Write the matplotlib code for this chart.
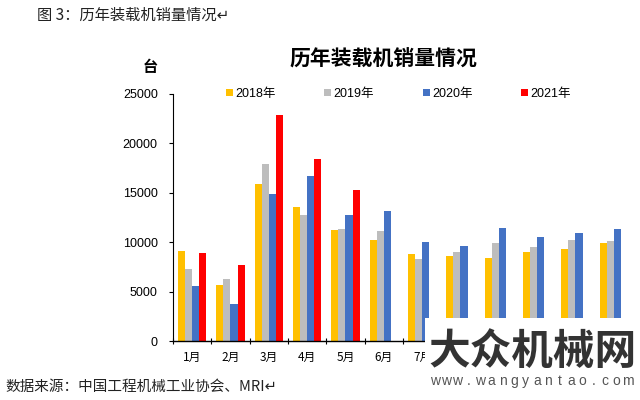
import numpy as np
import matplotlib.pyplot as plt
from matplotlib.patches import Rectangle

plt.rcParams['font.family'] = ['Noto Sans CJK SC', 'DejaVu Sans']

# Data
months = ['1月', '2月', '3月', '4月', '5月', '6月',
          '7月', '8月', '9月', '10月', '11月', '12月']
years = ['2018年', '2019年', '2020年', '2021年']
sales_2018 = [9080, 5650, 15910, 13560, 11200, 10260, 8780, 8650, 8450, 9050, 9280, 9930]
sales_2019 = [7300, 6230, 17930, 12710, 11370, 11140, 8310, 9020, 9890, 9560, 10190, 10160]
sales_2020 = [5550, 3700, 14900, 16720, 12780, 13190, 9990, 9660, 11440, 10560, 10900, 11300]
sales_2021 = [8950, 7710, 22840, 18430, 15240]
yticks = [0, 5000, 10000, 15000, 20000, 25000]

colors = ['#FFC000', '#BDBDBD', '#4472C4', '#FF0000']
series = [sales_2018, sales_2019, sales_2020, sales_2021]

fig = plt.figure(figsize=(6.4, 4), dpi=100)
ax = fig.add_axes([0.2703, 0.1475, 0.7187, 0.6175])

width = 0.185
x = np.arange(len(months))
for i, (vals, c, lab) in enumerate(zip(series, colors, years)):
    pos = x[:len(vals)] + (i - 1.5) * width
    ax.bar(pos, vals, width=width, color=c, label=lab, zorder=2)

ax.set_xlim(-0.5, len(months) - 0.5)
ax.set_ylim(0, 25000)
ax.set_yticks(yticks)
ax.set_yticklabels([str(v) for v in yticks], fontsize=9, family='Liberation Sans')
ax.tick_params(axis='y', length=3, width=0.8, pad=8)

ax.set_xticks(x)
ax.set_xticklabels(months, fontsize=8.5)
ax.set_xticks(np.arange(-0.5, len(months), 1), minor=True)
ax.tick_params(axis='x', which='major', length=0, pad=7)
ax.tick_params(axis='x', which='minor', length=4, width=0.8, direction='inout')
# month labels 8月..12月 sit under the watermark block in the reference
for lbl in ax.get_xticklabels()[7:]:
    lbl.set_visible(False)

for s in ['top', 'right']:
    ax.spines[s].set_visible(False)
ax.spines['left'].set_linewidth(0.8)
ax.spines['bottom'].set_linewidth(1.0)

leg = ax.legend(ncol=4, loc='center left', bbox_to_anchor=(0.09, 1.0),
                frameon=False, handlelength=0.55, handleheight=0.55,
                handletextpad=0.2, columnspacing=3.9,
                prop={'family': ['Liberation Sans', 'Noto Sans CJK SC'], 'size': 9})

fig.text(0.599, 0.852, '历年装载机销量情况', fontsize=15, fontweight='bold',
         ha='center', va='center')
fig.text(0.234, 0.832, '台', fontsize=11, fontweight='bold', ha='center', va='center')

fig.text(0.058, 0.963, '图 3：历年装载机销量情况↵', fontsize=11, ha='left',
         va='center', color='#222222')
fig.text(0.008, 0.032, '数据来源：中国工程机械工业协会、MRI↵', fontsize=10.5,
         ha='left', va='center', color='#222222')

# watermark block in the lower right corner
fig.patches.append(Rectangle((0.664, 0.0), 0.336, 0.205, transform=fig.transFigure,
                             facecolor='white', edgecolor='none', zorder=5))
fig.text(0.832, 0.12, '大众机械网', fontsize=30, fontweight='bold', color='#333333',
         ha='center', va='center', zorder=6)
url = 'www.wangyantao.com'
url_x = np.linspace(0.679, 0.981, len(url))
for ch, ux in zip(url, url_x):
    fig.text(ux, 0.048, ch, fontsize=10, color='#555555', ha='center', va='center',
             zorder=6, family='Liberation Sans')

fig.savefig('out.png', dpi=100)
